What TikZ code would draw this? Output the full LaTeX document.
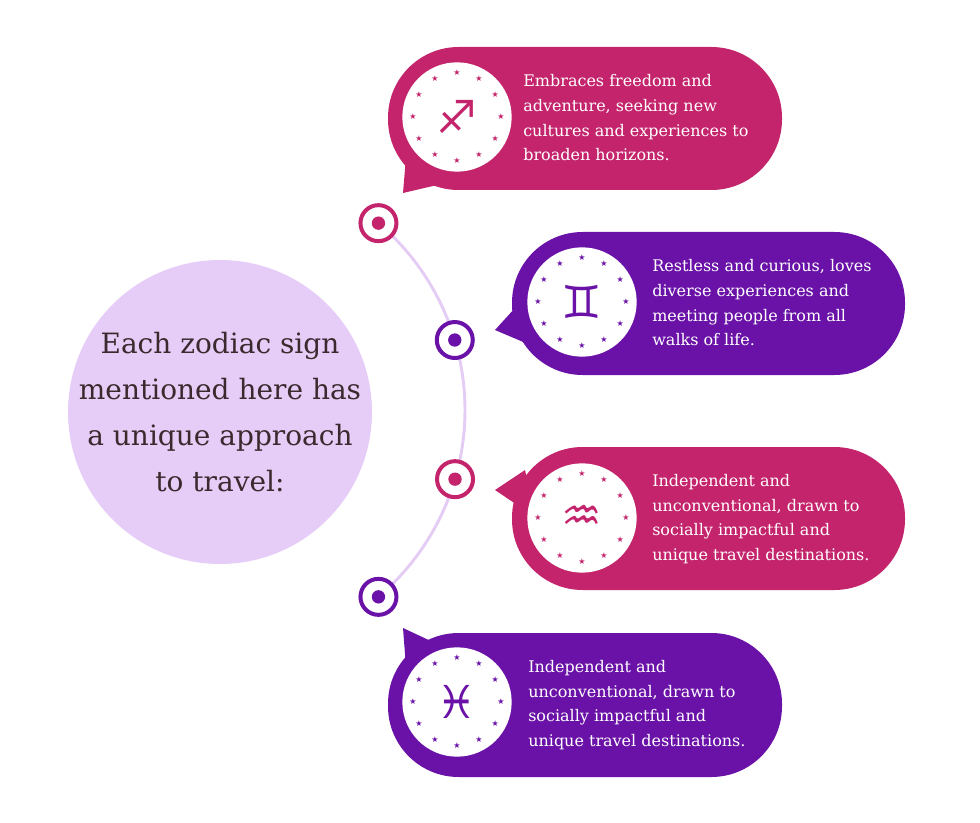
\documentclass[tikz,border=0pt]{standalone}
\usepackage{fontspec}
\usetikzlibrary{calc}
\setmainfont{DejaVu Serif}
\newfontfamily\symf{DejaVu Sans}
\definecolor{mag}{HTML}{C4246C}
\definecolor{pur}{HTML}{6A12A8}
\definecolor{lav}{HTML}{E6CDF8}
\definecolor{arcc}{HTML}{E4CCF4}
\definecolor{ink}{HTML}{3A2A2E}
\begin{document}
\begin{tikzpicture}[x=0.75pt,y=0.75pt,
  bub/.style={rounded corners=53pt},
  txt/.style={text=white,font=\fontsize{12}{18.5}\selectfont,align=left,anchor=west,inner sep=0},
  ring/.style={circle,draw=#1,line width=3pt,fill=white,minimum size=27pt,inner sep=0},
  dotc/.style={circle,fill=#1,minimum size=10pt,inner sep=0},
  ico/.style={circle,fill=white,minimum size=82pt,inner sep=0}]
\useasboundingbox (0,0) rectangle (980,822);
\node[circle,fill=lav,minimum size=228pt,inner sep=0] (big) at (220,410) {};
\node[text=ink,font=\fontsize{21}{34.5}\selectfont,align=center] (bt) at (big) {Each zodiac sign\\mentioned here has\\a unique approach\\to travel:};
\coordinate (c) at (220,412);
\draw[arcc,line width=2.2pt] (c) ++(49.7:245) arc (49.7:-49.7:245);
\foreach \n/\a/\col in {d1/49.7/mag,d2/16.6/pur,d3/-16.4/mag,d4/-49.7/pur}{
  \node[ring=\col] (\n) at ($(c)+(\a:245)$) {};
  \node[dotc=\col] at (\n) {};}
% bubbles
\fill[mag,bub] (388,632) rectangle (782,775);
\fill[mag] (403,629) -- (406,665) -- (450,640) -- cycle;
\fill[pur,bub] (512,447) rectangle (905,590);
\fill[pur] (495,492) -- (525,525) -- (535,475) -- cycle;
\fill[mag,bub] (512,232) rectangle (905,375);
\fill[mag] (495,332) -- (525,352) -- (535,305) -- cycle;
\fill[pur,bub] (388,45) rectangle (782,189);
\fill[pur] (403,194) -- (450,172) -- (406,155) -- cycle;
% icons
\foreach \n/\x/\y/\col/\g in {i1/457/705/mag/♐,i2/582/520/pur/♊,i3/582/304/mag/♒,i4/457/120/pur/♓}{
  \node[ico] (\n) at (\x,\y) {};
  \node[text=\col,font=\symf\fontsize{34}{34}\selectfont] at (\n) {\g};
  \foreach \k in {0,30,...,330}{
    \node[text=\col,font=\symf\fontsize{6}{6}\selectfont] at ($(\n)+(\k:44)$) {★};}
}
\node[txt] (t1) at (523,704) {Embraces freedom and\\adventure, seeking new\\cultures and experiences to\\broaden horizons.};
\node[txt] (t2) at (652,519) {Restless and curious, loves\\diverse experiences and\\meeting people from all\\walks of life.};
\node[txt] (t3) at (652,303) {Independent and\\unconventional, drawn to\\socially impactful and\\unique travel destinations.};
\node[txt] (t4) at (528,117) {Independent and\\unconventional, drawn to\\socially impactful and\\unique travel destinations.};
\end{tikzpicture}
\end{document}
